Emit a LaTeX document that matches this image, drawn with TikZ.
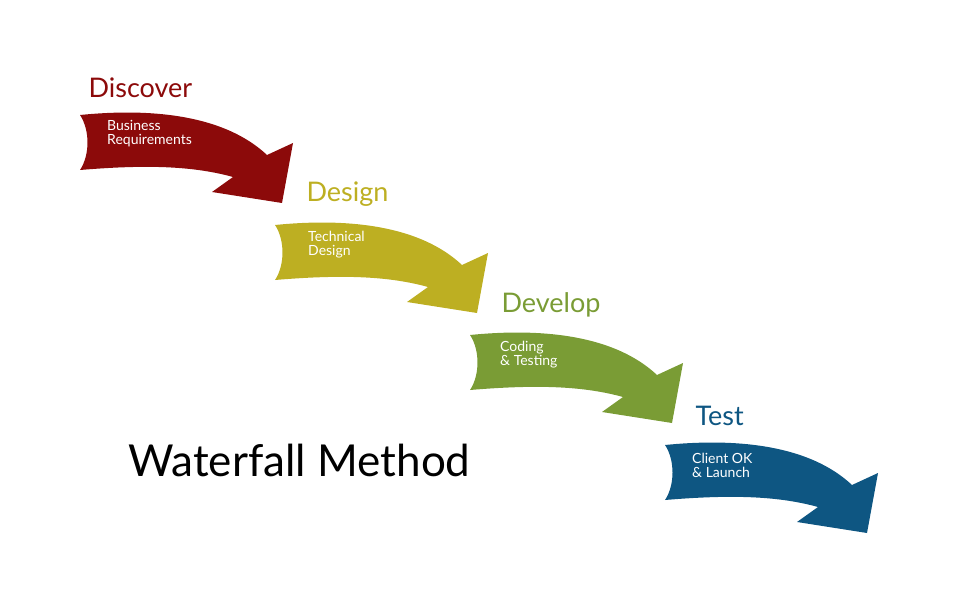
\documentclass[tikz,border=0pt]{standalone}
\usepackage{fontspec}
\setmainfont{Lato}
\begin{document}
\begin{tikzpicture}[x=1pt,y=-1pt,
  ttl/.style={anchor=west,font=\fontsize{27}{27}\selectfont},
  sub/.style={anchor=north west,text=white,align=left,font=\fontsize{14}{14}\selectfont,inner sep=0pt}]
\useasboundingbox (0,0) rectangle (974,604);
\definecolor{cA}{HTML}{8C0A0A}
\definecolor{cB}{HTML}{BDAF22}
\definecolor{cC}{HTML}{7A9C35}
\definecolor{cD}{HTML}{0E5682}
\def\arr#1#2#3{\fill[#3,shift={(#1,#2)}] (0,0) .. controls (60,-6) and (140,-4) .. (187,40)
  -- (213,28) -- (202,88) -- (132,77) -- (153,62)
  .. controls (110,50) and (60,50) .. (0,55) .. controls (10,40) and (10,15) .. (0,0) -- cycle;}
\arr{80}{115}{cA}
\arr{275}{225}{cB}
\arr{470}{335}{cC}
\arr{665}{445}{cD}
\node[ttl,text=cA] (t1) at (85,88) {Discover};
\node[ttl,text=cB] (t2) at (303,194) {Design};
\node[ttl,text=cC] (t3) at (498,305) {Develop};
\node[ttl,text=cD] (t4) at (692,416) {Test};
\node[sub] (s1) at (107,120) {Business\\Requirements};
\node[sub] (s2) at (308,231) {Technical\\Design};
\node[sub] (s3) at (500,341) {Coding\\\& Testing};
\node[sub] (s4) at (692,453) {Client OK\\\& Launch};
\node[anchor=west,font=\fontsize{44}{44}\selectfont] (w) at (125,460) {Waterfall Method};
\end{tikzpicture}
\end{document}
